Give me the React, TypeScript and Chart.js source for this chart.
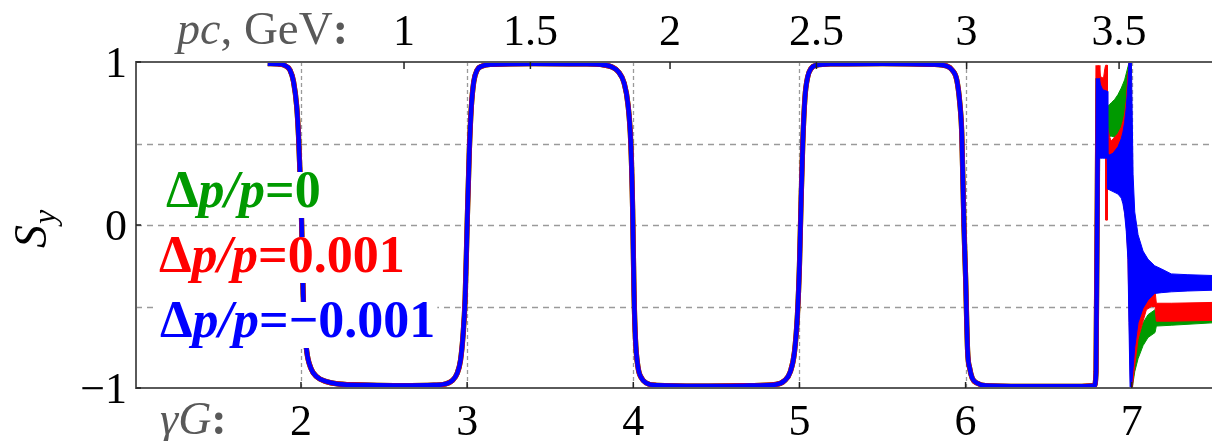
import React, { useEffect, useRef } from "react";
import { Chart, registerables } from "chart.js";
Chart.register(...registerables);

// ---- axis ticks ----
const GAMMA_G_TICKS = [2, 3, 4, 5, 6, 7];
const PC_TICKS = [1, 1.5, 2, 2.5, 3, 3.5]; // GeV
const SY_TICKS = [-1, 0, 1];
const SY_GRID = [-0.5, 0, 0.5];
const PROTON_G = 1.7928;
const PROTON_MASS = 0.93827; // GeV

// ---- series ----
const SERIES_LABELS = ["0", "0.001", "\u22120.001"];
const SERIES_COLORS = ["#009a00", "#ff0000", "#0000ff"]; // green, red, blue

// shared main curve (the three series overlap here)
const mainX = [
  1.80, 1.86, 1.90, 1.934, 1.955, 1.974, 1.985, 1.994, 2.003, 2.008, 2.013, 2.022, 2.034, 2.06, 2.094, 2.15, 2.22,
  2.40, 2.60, 2.80, 2.87, 2.91, 2.94, 2.96, 2.975, 2.988, 3.0, 3.013, 3.025, 3.04, 3.06, 3.09, 3.15,
  3.40, 3.70, 3.82, 3.87, 3.91, 3.945, 3.968, 3.985, 3.996, 4.004, 4.013, 4.028, 4.05, 4.08, 4.14,
  4.40, 4.70, 4.86, 4.91, 4.945, 4.97, 4.988, 5.0, 5.01, 5.02, 5.033, 5.05, 5.07, 5.10, 5.20,
  5.50, 5.80, 5.887, 5.92, 5.947, 5.965, 5.977, 5.99, 6.0, 6.012, 6.025, 6.04, 6.07, 6.12,
  6.40, 6.70, 6.775, 6.785,
];
const mainY = [
  0.99, 0.988, 0.98, 0.95, 0.88, 0.73, 0.55, 0.32, 0.05, -0.2, -0.42, -0.62, -0.77, -0.88, -0.93, -0.96, -0.975,
  -0.982, -0.985, -0.982, -0.975, -0.955, -0.91, -0.83, -0.68, -0.45, 0.0, 0.45, 0.72, 0.88, 0.95, 0.975, 0.985,
  0.99, 0.988, 0.982, 0.97, 0.94, 0.87, 0.74, 0.5, 0.1, -0.4, -0.7, -0.87, -0.94, -0.97, -0.983,
  -0.988, -0.985, -0.978, -0.955, -0.9, -0.78, -0.55, -0.25, 0.15, 0.5, 0.78, 0.91, 0.96, 0.98, 0.988,
  0.99, 0.985, 0.975, 0.95, 0.89, 0.75, 0.56, 0.0, -0.32, -0.77, -0.88, -0.94, -0.97, -0.985,
  -0.99, -0.99, -0.985, -0.9,
];
const riseX = 6.797;
const riseTop = [0.9, 0.98, 0.9]; // green, red, blue

// oscillation envelopes (filled bands)
const greenBandX = [6.855, 6.867, 6.877, 6.897, 6.917, 6.937, 6.957, 6.977, 6.985, 6.993, 7.003, 7.018, 7.038, 7.068, 7.098, 7.140, 7.148, 7.238, 7.49];
const greenUpper = [0.73, 0.74, 0.75, 0.77, 0.80, 0.84, 0.89, 0.97, 1.0, 1.0, -0.80, -0.80, -0.70, -0.60, -0.55, -0.52, -0.57, -0.57, -0.57];
const greenLower = [0.55, 0.545, 0.545, 0.54, 0.5, 0.5, 0.4, 0.3, 0.0, -1.0, -1.0, -0.90, -0.82, -0.74, -0.69, -0.66, -0.62, -0.615, -0.60];

const redBandX = [6.797, 6.805, 6.812, 6.830, 6.838, 6.843, 6.844, 6.853, 6.854, 6.867, 6.877, 6.897, 6.917, 6.937, 6.947, 6.957, 6.967, 6.977, 6.985, 6.993, 7.003, 7.018, 7.038, 7.068, 7.088, 7.118, 7.140, 7.148, 7.238, 7.49];
const redUpper = [0.98, 0.96, 0.91, 0.90, 0.96, 0.98, 0.98, 0.98, 0.60, 0.54, 0.515, 0.54, 0.56, 0.60, 0.635, 0.68, 0.76, 0.92, 1.0, 1.0, 0.3, -0.70, -0.55, -0.48, -0.44, -0.41, -0.40, -0.48, -0.48, -0.475];
const redLower = [0.5, 0.5, 0.5, 0.5, 0.5, 0.5, 0.03, 0.03, 0.3, 0.3, 0.3, 0.3, 0.25, 0.2, 0.15, 0.08, 0.0, -0.2, -0.6, -1.0, -1.0, -0.86, -0.70, -0.59, -0.52, -0.50, -0.50, -0.59, -0.59, -0.585];

const blueBandX = [6.803, 6.812, 6.825, 6.853, 6.856, 6.867, 6.887, 6.917, 6.937, 6.947, 6.957, 6.967, 6.977, 6.983, 6.990, 6.998, 7.008, 7.018, 7.038, 7.068, 7.098, 7.138, 7.18, 7.238, 7.338, 7.49];
const blueUpper = [0.90, 0.86, 0.83, 0.82, 0.44, 0.43, 0.44, 0.48, 0.53, 0.57, 0.63, 0.72, 0.86, 1.0, 1.0, 1.0, 0.31, 0.08, -0.06, -0.16, -0.21, -0.25, -0.27, -0.30, -0.305, -0.31];
const blueLower = [0.41, 0.41, 0.41, 0.41, 0.22, 0.215, 0.205, 0.19, 0.165, 0.13, 0.07, -0.04, -0.21, -0.6, -1.0, -1.0, -0.88, -0.75, -0.60, -0.51, -0.46, -0.42, -0.415, -0.41, -0.405, -0.40];

const X_MIN = 1.007;
const X_MAX = 7.483;

const SERIF = '"Liberation Serif"';

const pts = (xs: number[], ys: number[]) => xs.map((x, i) => ({ x, y: ys[i] }));
const pcToGammaG = (pc: number) => (PROTON_G * Math.sqrt(pc * pc + PROTON_MASS * PROTON_MASS)) / PROTON_MASS;

type Piece = [string, string];

function drawPieces(ctx: CanvasRenderingContext2D, pieces: Piece[], x: number, y: number) {
  let cx = x;
  for (const [t, f] of pieces) {
    ctx.font = f;
    ctx.fillText(t, cx, y);
    cx += ctx.measureText(t).width;
  }
  return cx - x;
}
function measurePieces(ctx: CanvasRenderingContext2D, pieces: Piece[]) {
  let w = 0;
  for (const [t, f] of pieces) {
    ctx.font = f;
    w += ctx.measureText(t).width;
  }
  return w;
}

const decorPlugin = {
  id: "decor",
  beforeDatasetsDraw(chart: any) {
    const { ctx, chartArea: a, scales } = chart;
    const xs = scales.x, ys = scales.y;
    ctx.save();
    ctx.strokeStyle = "#9a9a9a";
    ctx.lineWidth = 1.3;
    ctx.setLineDash([6, 5]);
    for (const v of SY_GRID) {
      const py = Math.round(ys.getPixelForValue(v)) + 0.5;
      ctx.beginPath();
      ctx.moveTo(a.left, py);
      ctx.lineTo(a.right, py);
      ctx.stroke();
    }
    ctx.setLineDash([4, 3]);
    for (const v of GAMMA_G_TICKS) {
      const px = Math.round(xs.getPixelForValue(v)) + 0.5;
      ctx.beginPath();
      ctx.moveTo(px, a.top);
      ctx.lineTo(px, a.bottom);
      ctx.stroke();
    }
    ctx.restore();
  },
  afterDatasetsDraw(chart: any) {
    const { ctx, chartArea: a, scales } = chart;
    const xs = scales.x, ys = scales.y;
    ctx.save();
    // frame
    ctx.strokeStyle = "#5a5a5a";
    ctx.lineWidth = 2;
    ctx.beginPath();
    ctx.moveTo(a.right, a.top);
    ctx.lineTo(a.left, a.top);
    ctx.lineTo(a.left, a.bottom);
    ctx.lineTo(a.right, a.bottom);
    ctx.stroke();
    // ticks
    ctx.strokeStyle = "#222";
    ctx.lineWidth = 1.5;
    for (const p of PC_TICKS) {
      const px = xs.getPixelForValue(pcToGammaG(p));
      ctx.beginPath();
      ctx.moveTo(px, a.top);
      ctx.lineTo(px, a.top + 7);
      ctx.stroke();
    }
    for (const v of GAMMA_G_TICKS) {
      const px = xs.getPixelForValue(v);
      ctx.beginPath();
      ctx.moveTo(px, a.bottom);
      ctx.lineTo(px, a.bottom - 6);
      ctx.stroke();
    }
    for (const v of SY_TICKS) {
      const py = ys.getPixelForValue(v);
      ctx.beginPath();
      ctx.moveTo(a.left, py);
      ctx.lineTo(a.left + 5, py);
      ctx.stroke();
    }
    // tick labels
    ctx.fillStyle = "#000";
    ctx.textBaseline = "alphabetic";
    ctx.font = `44px ${SERIF}`;
    ctx.textAlign = "center";
    for (const p of PC_TICKS) {
      ctx.fillText(String(p), xs.getPixelForValue(pcToGammaG(p)), 45);
    }
    for (const v of GAMMA_G_TICKS) {
      ctx.fillText(String(v), xs.getPixelForValue(v), 435);
    }
    ctx.textAlign = "right";
    for (const v of SY_TICKS) {
      const t = v < 0 ? "\u2212" + String(-v) : String(v);
      ctx.font = `44px ${SERIF}`;
      ctx.fillText(t, 127, ys.getPixelForValue(v) + 15);
    }
    // axis captions
    ctx.textAlign = "left";
    ctx.fillStyle = "#595959";
    drawPieces(ctx, [["pc", `italic 46px ${SERIF}`], [", GeV", `47px ${SERIF}`], [":", `bold 46px ${SERIF}`]], 177, 44);
    drawPieces(ctx, [["\u03b3G", `italic 46px ${SERIF}`], [":", `bold 46px ${SERIF}`]], 160, 434);
    // S_y
    ctx.fillStyle = "#000";
    ctx.save();
    ctx.translate(46, 248);
    ctx.rotate(-Math.PI / 2);
    ctx.font = `italic 46px ${SERIF}`;
    ctx.fillText("S", 0, 0);
    const sw = ctx.measureText("S").width;
    ctx.font = `italic 32px ${SERIF}`;
    ctx.fillText("y", sw + 1, 9);
    ctx.restore();
    // in-plot labels
    const baselines = [207, 272, 337];
    const lefts = [166, 159, 160];
    SERIES_LABELS.forEach((val, i) => {
      const bf = `bold 52px ${SERIF}`;
      const bif = `italic bold 52px ${SERIF}`;
      const pieces: Piece[] = [["\u0394", bf], ["p", bif], ["/", bif], ["p", bif], ["=", bf], [val, bf]];
      const w = measurePieces(ctx, pieces);
      ctx.fillStyle = "#fff";
      ctx.fillRect(lefts[i] - 2, baselines[i] - 35, w + 4, 46);
      ctx.fillStyle = SERIES_COLORS[i];
      drawPieces(ctx, pieces, lefts[i], baselines[i]);
    });
    ctx.restore();
  },
};

export default function App() {
  const ref = useRef<HTMLCanvasElement | null>(null);
  useEffect(() => {
    if (!ref.current) return;
    const [g, r, b] = SERIES_COLORS;
    const mainFor = (i: number) => [...pts(mainX, mainY), { x: riseX, y: riseTop[i] }];
    const line = (data: any, color: string, width: number, order: number) => ({
      data, borderColor: color, backgroundColor: color, borderWidth: width, pointRadius: 0,
      cubicInterpolationMode: "monotone", fill: false, order,
    });
    const band = (data: any, color: string, order: number, target: number | false) => ({
      data, borderColor: color, backgroundColor: color, borderWidth: 1, pointRadius: 0, tension: 0, fill: target, order,
    });
    const datasets: any[] = [
      line(mainFor(2), b, 4.5, 1), // 0
      band(pts(blueBandX, blueLower), b, 1, false), // 1
      band(pts(blueBandX, blueUpper), b, 1, 1), // 2
      line(mainFor(1), r, 5.2, 2), // 3
      band(pts(redBandX, redLower), r, 2, false), // 4
      band(pts(redBandX, redUpper), r, 2, 4), // 5
      line(mainFor(0), g, 5.2, 3), // 6
      band(pts(greenBandX, greenLower), g, 3, false), // 7
      band(pts(greenBandX, greenUpper), g, 3, 7), // 8
    ];
    const chart = new Chart(ref.current, {
      type: "line",
      data: { datasets },
      options: {
        animation: false,
        responsive: false,
        devicePixelRatio: 1,
        layout: { padding: { left: 136, top: 62, right: 0, bottom: 53 } },
        scales: {
          x: { type: "linear", min: X_MIN, max: X_MAX, display: false },
          y: { type: "linear", min: -1, max: 1, display: false },
        },
        plugins: { legend: { display: false }, tooltip: { enabled: false } },
      },
      plugins: [decorPlugin],
    });
    return () => chart.destroy();
  }, []);
  return (
    <div style={{ position: "absolute", left: 0, top: 0, width: 1212, height: 441, background: "#fff" }}>
      <canvas ref={ref} width={1212} height={441} style={{ display: "block", width: 1212, height: 441 }} />
    </div>
  );
}
